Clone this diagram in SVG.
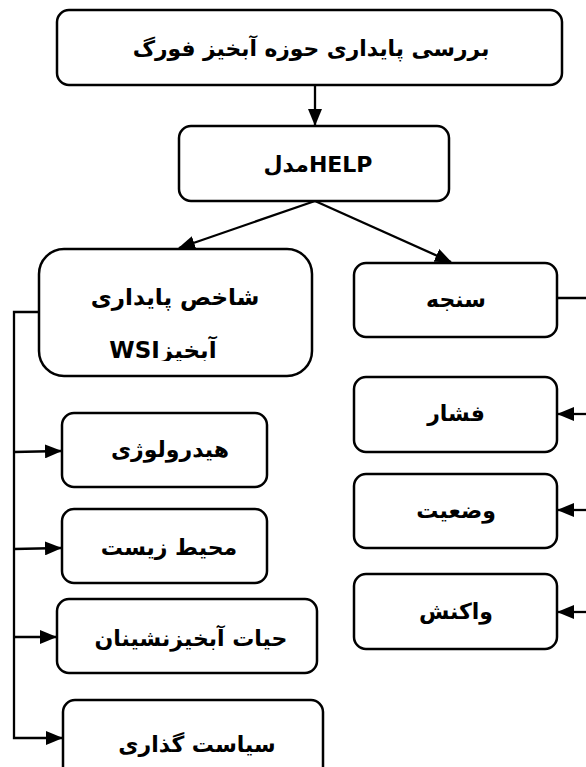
<svg xmlns="http://www.w3.org/2000/svg" width="586" height="767" viewBox="0 0 586 767">
<style>
.box{fill:#fff;stroke:#000;stroke-width:2.5}
.t{font-family:'DejaVu Sans','Noto Sans',sans-serif;font-weight:bold;font-size:22px;fill:#000;text-anchor:middle}
.c{fill:none;stroke:#000;stroke-width:2.3}
</style>
<defs>
<marker id="ah" markerUnits="userSpaceOnUse" markerWidth="17" markerHeight="14" viewBox="0 0 17 14" refX="16" refY="7" orient="auto">
<path d="M0,0 L17,7 L0,14 z" fill="#000"/>
</marker>
<clipPath id="clipL"><rect x="0" y="0" width="586" height="361"/></clipPath>
</defs>
<rect width="586" height="767" fill="#fff"/>
<g id="connectors">
<line class="c" x1="315" y1="85" x2="315" y2="125" marker-end="url(#ah)"/>
<line class="c" x1="315" y1="201" x2="179" y2="248" marker-end="url(#ah)"/>
<line class="c" x1="315" y1="201" x2="451" y2="262" marker-end="url(#ah)"/>
<line class="c" x1="551" y1="298" x2="586" y2="298"/>
<line class="c" x1="586" y1="414" x2="558" y2="414" marker-end="url(#ah)"/>
<line class="c" x1="586" y1="510" x2="558" y2="510" marker-end="url(#ah)"/>
<line class="c" x1="586" y1="612" x2="558" y2="612" marker-end="url(#ah)"/>
<path class="c" d="M39,312 H14 V738 H62" marker-end="url(#ah)"/>
<line class="c" x1="14" y1="452" x2="61" y2="451" marker-end="url(#ah)"/>
<line class="c" x1="14" y1="549" x2="61" y2="548" marker-end="url(#ah)"/>
<line class="c" x1="14" y1="637" x2="56" y2="637" marker-end="url(#ah)"/>
</g>
<g id="n-title">
<rect class="box" x="57" y="10" width="505" height="75" rx="12"/>
<text class="t" x="311" y="56" style="font-size:21.8px">بررسی پایداری حوزه آبخیز فورگ</text>
</g>
<g id="n-help">
<rect class="box" x="179" y="126" width="270" height="75" rx="12"/>
<text class="t" x="318" y="172">مدلHELP</text>
</g>
<g id="n-wsi">
<rect class="box" x="39" y="249" width="273" height="127" rx="25"/>
<text class="t" x="175" y="305" style="font-size:23px">شاخص پایداری</text>
<text class="t" x="163" y="358" style="font-size:23px" clip-path="url(#clipL)">WSIآبخیز</text>
</g>
<g id="n-sanje">
<rect class="box" x="354" y="263" width="203" height="74" rx="12"/>
<text class="t" x="456" y="307">سنجه</text>
</g>
<g id="n-feshar">
<rect class="box" x="354" y="377" width="203" height="75" rx="12"/>
<text class="t" x="456" y="421">فشار</text>
</g>
<g id="n-vaziat">
<rect class="box" x="354" y="474" width="203" height="74" rx="12"/>
<text class="t" x="456" y="518">وضعیت</text>
</g>
<g id="n-vakonesh">
<rect class="box" x="354" y="574" width="203" height="75" rx="12"/>
<text class="t" x="456" y="619">واکنش</text>
</g>
<g id="n-hydro">
<rect class="box" x="62" y="413" width="205" height="74" rx="12"/>
<text class="t" x="170" y="457">هیدرولوژی</text>
</g>
<g id="n-env">
<rect class="box" x="62" y="509" width="205" height="74" rx="12"/>
<text class="t" x="169" y="555">محیط زیست</text>
</g>
<g id="n-life">
<rect class="box" x="57" y="599" width="260" height="74" rx="12"/>
<text class="t" x="191" y="646">حیات آبخیزنشینان</text>
</g>
<g id="n-policy">
<rect class="box" x="63" y="700" width="260" height="80" rx="12"/>
<text class="t" x="197" y="752">سیاست گذاری</text>
</g>
</svg>
